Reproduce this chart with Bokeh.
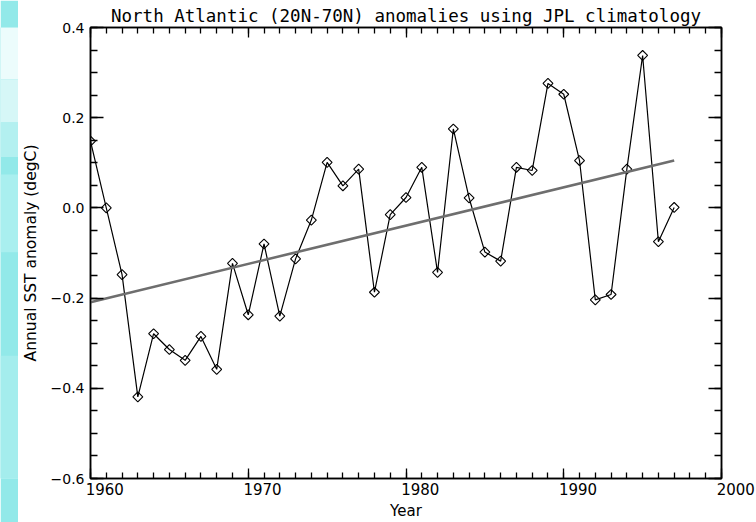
from bokeh.plotting import figure
from bokeh.models import FixedTicker, LinearAxis, Range1d
from bokeh.layouts import row
from bokeh.embed import file_html
from bokeh.resources import INLINE
import numpy as np

# ---- data ----
years = list(range(1960, 1998))
anomaly = [0.148, 0.0, -0.148, -0.419, -0.279, -0.314, -0.338, -0.285, -0.358, -0.123,
           -0.237, -0.080, -0.240, -0.113, -0.027, 0.101, 0.049, 0.086, -0.187, -0.015,
           0.023, 0.090, -0.143, 0.175, 0.022, -0.098, -0.118, 0.090, 0.083, 0.276,
           0.252, 0.105, -0.204, -0.192, 0.086, 0.338, -0.075, 0.001]
trend_years = [1960, 1997]
trend_vals = [-0.209, 0.105]

x_ticks = [1960, 1970, 1980, 1990, 2000]
x_tick_labels = ["1960", "1970", "1980", "1990", "2000"]
x_minor = list(range(1960, 2001))
y_ticks = [-0.6, -0.4, -0.2, 0.0, 0.2, 0.4]
y_tick_labels = ["\u22120.6", "\u22120.4", "\u22120.2", "0.0", "0.2", "0.4"]
y_minor = [round(-0.6 + 0.05 * i, 2) for i in range(21)]

title_text = "North Atlantic (20N-70N) anomalies using JPL climatology"
x_label = "Year"
y_label = "Annual SST anomaly (degC)"

FONT = "DejaVu Sans"
# x tick labels in the reference start at the tick (left-aligned); centred labels
# are pushed right with leading non-breaking spaces
PAD = "\u00a0" * 6

# ---- decorative strip on the left ----
strip = figure(width=18, height=522, x_range=Range1d(0, 1), y_range=Range1d(522, 0),
               output_backend="svg", toolbar_location=None,
               min_border=0, background_fill_color="#92e9e9", border_fill_color="#92e9e9")
strip.axis.visible = False
strip.grid.visible = False
strip.outline_line_color = None
strip.quad(left=0, right=1, top=0, bottom=60, color="#ecfcfc", line_color=None)
strip.quad(left=0, right=1, top=60, bottom=110, color="#d6f7f7", line_color=None)
strip.quad(left=0, right=1, top=110, bottom=150, color="#b3f0f0", line_color=None)
strip.quad(left=0, right=1, top=170, bottom=260, color="#a9efef", line_color=None)
strip.quad(left=0, right=1, top=380, bottom=522, color="#a4eded", line_color=None)

# ---- main plot ----
p = figure(width=738, height=522,
           x_range=Range1d(1960, 2000), y_range=Range1d(-0.6, 0.4),
           output_backend="svg", toolbar_location=None,
           min_border_left=70, min_border_right=35, min_border_top=27, min_border_bottom=44,
           background_fill_color="white", border_fill_color="white")
p.xgrid.visible = False
p.ygrid.visible = False
p.outline_line_color = "black"
p.outline_line_width = 1.5

p.title.text = title_text
p.title.align = "center"
p.title.text_font = "DejaVu Sans Mono"
p.title.text_font_size = "17.5px"
p.title.text_font_style = "normal"
p.title.text_color = "black"
p.title.standoff = 4
p.title.offset = 0

xt = FixedTicker(ticks=x_ticks, minor_ticks=x_minor)
yt = FixedTicker(ticks=y_ticks, minor_ticks=y_minor)

def style(ax, major, minor):
    ax.axis_line_color = "black"
    ax.axis_line_width = 1.5
    ax.major_tick_line_color = "black"
    ax.minor_tick_line_color = "black"
    ax.major_tick_line_width = 1.3
    ax.minor_tick_line_width = 1.3
    ax.major_tick_in = major
    ax.major_tick_out = 0
    ax.minor_tick_in = minor
    ax.minor_tick_out = 0

xa = p.xaxis[0]
xa.ticker = xt
xa.major_label_overrides = {t: PAD + s for t, s in zip(x_ticks, x_tick_labels)}
xa.major_label_text_font = FONT
xa.major_label_text_font_size = "15px"
xa.major_label_text_color = "black"
xa.major_label_standoff = 2
xa.axis_label = x_label
xa.axis_label_text_font = FONT
xa.axis_label_text_font_size = "15px"
xa.axis_label_text_font_style = "normal"
xa.axis_label_text_color = "black"
xa.axis_label_standoff = 0
style(xa, 10, 6)

ya = p.yaxis[0]
ya.ticker = yt
ya.major_label_overrides = {t: s for t, s in zip(y_ticks, y_tick_labels)}
ya.major_label_text_font = FONT
ya.major_label_text_font_size = "14px"
ya.major_label_text_color = "black"
ya.major_label_standoff = 6
ya.axis_label = y_label
ya.axis_label_text_font = FONT
ya.axis_label_text_font_size = "15.5px"
ya.axis_label_text_font_style = "normal"
ya.axis_label_text_color = "black"
ya.axis_label_standoff = 8
style(ya, 13, 7)

top = LinearAxis(ticker=xt, major_label_overrides={t: "" for t in x_ticks},
                 major_label_text_font_size="0px", major_label_standoff=0)
style(top, 10, 6)
p.add_layout(top, "above")
right = LinearAxis(ticker=yt, major_label_overrides={t: "" for t in y_ticks},
                   major_label_text_font_size="0px", major_label_standoff=0)
style(right, 13, 7)
p.add_layout(right, "right")

# data
p.line(years, anomaly, line_color="black", line_width=1.2)
p.scatter(years, anomaly, marker="square", angle=np.pi / 4, size=7,
          fill_color=None, line_color="black", line_width=1.1)
p.line(trend_years, trend_vals, line_color="#6e6e6e", line_width=2.6)

layout = row(strip, p)
open("out.html", "w").write(file_html(layout, INLINE))
